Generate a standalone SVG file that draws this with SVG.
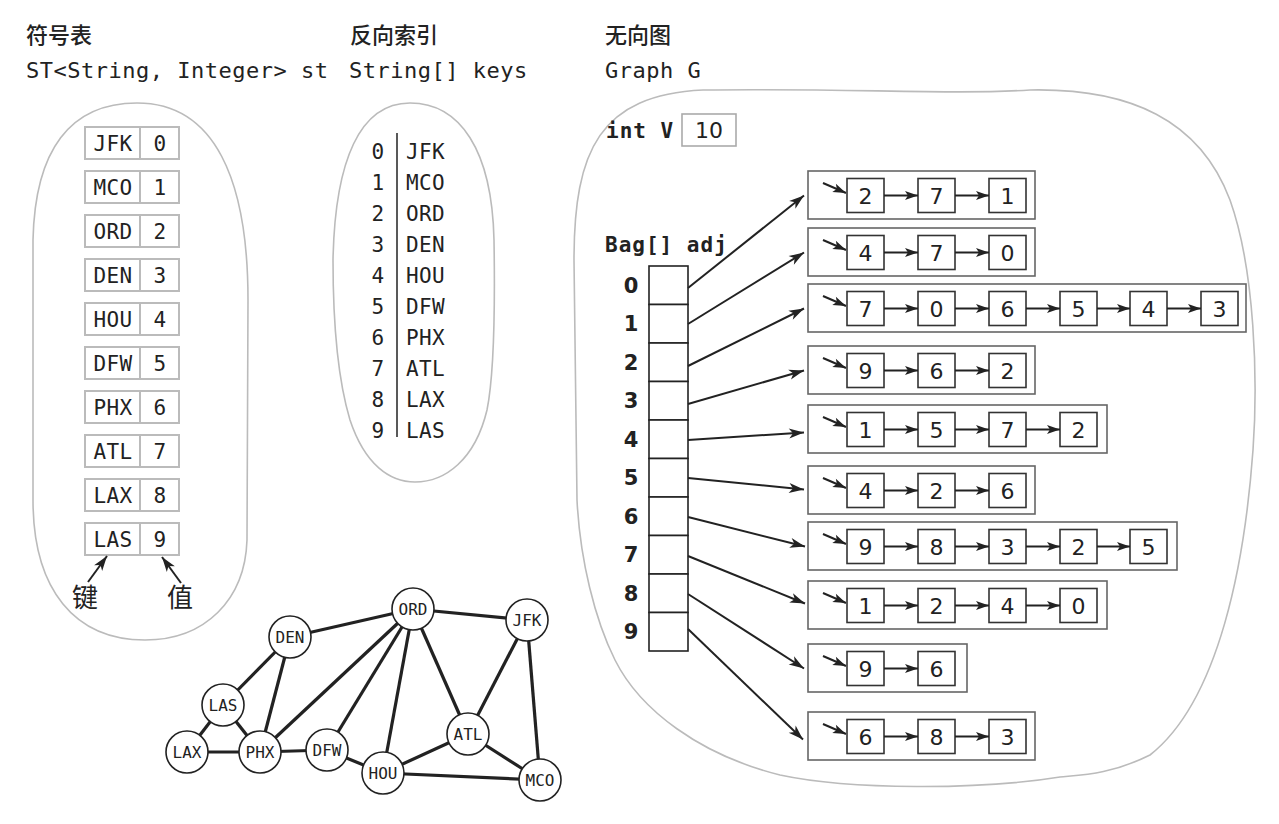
<svg xmlns="http://www.w3.org/2000/svg" width="1279" height="824" viewBox="0 0 1279 824">
<style>
.cjk{font-family:"Noto Sans CJK SC","Noto Sans",sans-serif;fill:#222}
.h1{font-size:22px;font-weight:500}
.mono{font-family:"DejaVu Sans Mono","Liberation Mono",monospace;fill:#222}
.hd{font-size:22px;letter-spacing:0.5px}
.tk{font-size:21px;letter-spacing:0.3px;text-anchor:middle}
.ii{font-size:21px;letter-spacing:0.3px}
.bold{font-weight:bold;font-size:21px;letter-spacing:1px}
.sans{font-family:"DejaVu Sans","Liberation Sans",sans-serif;fill:#222}
.num{font-size:22px;text-anchor:middle}
.idx{font-size:21px;font-weight:bold;text-anchor:middle}
.gl{font-size:16px;text-anchor:middle}
.blob{fill:none;stroke:#bbb;stroke-width:1.6}
.cell{fill:#fff;stroke:#bbb;stroke-width:2}
.lb{fill:#fff;stroke:#666;stroke-width:1.6}
.nb{fill:#fff;stroke:#333;stroke-width:1.6}
.ac{fill:#fff;stroke:#222;stroke-width:1.6}
.ar{stroke:#222;stroke-width:2;fill:none;marker-end:url(#ah)}
.ch{stroke:#222;stroke-width:2;fill:none;marker-end:url(#sh)}
.ed{stroke:#222;stroke-width:3.2}
.gn{fill:#fff;stroke:#222;stroke-width:1.6}
</style>
<defs>
<marker id="ah" viewBox="-16 -6 17 12" refX="0" refY="0" markerWidth="17" markerHeight="12" orient="auto" markerUnits="userSpaceOnUse"><path d="M0,0 L-15,-5 L-11,0 L-15,5 Z" fill="#222"/></marker>
<marker id="sh" viewBox="-14 -5 15 10" refX="0" refY="0" markerWidth="15" markerHeight="10" orient="auto" markerUnits="userSpaceOnUse"><path d="M0,0 L-13,-4.5 L-10,0 L-13,4.5 Z" fill="#222"/></marker>
</defs>
<rect width="1279" height="824" fill="#fff"/>

<g id="headers">
<text class="cjk h1" x="26" y="43">符号表</text>
<text class="cjk h1" x="350" y="43">反向索引</text>
<text class="cjk h1" x="605" y="43">无向图</text>
<text class="mono hd" x="26" y="78">ST&lt;String, Integer&gt; st</text>
<text class="mono hd" x="349" y="78">String[] keys</text>
<text class="mono hd" x="605" y="78">Graph G</text>
</g>

<g id="blobs">
<path class="blob" d="M137,103 C70,103 35,150 33,240 L33,500 C33,590 75,640 145,640 C205,640 245,600 247,540 L248,300 C248,180 215,103 137,103 Z"/>
<path class="blob" d="M410,103 C360,103 335,160 333,260 C333,330 338,380 350,420 C365,465 390,482 415,482 C445,482 475,460 487,410 C495,370 495,300 494,240 C492,150 460,103 410,103 Z"/>
<path class="blob" d="M703,90 C850,88 950,95 1030,90 C1130,88 1200,120 1230,200 C1255,270 1258,380 1253,450 C1245,560 1220,700 1150,755 C1110,775 1080,775 1060,777 C980,790 850,790 780,775 C700,755 640,710 615,660 C595,620 580,560 577,500 L574,260 C574,150 600,95 703,90 Z"/>
</g>

<g id="symbol-table">
<g id="st-0"><rect class="cell" x="85" y="127" width="55" height="32"/><rect class="cell" x="140" y="127" width="39" height="32"/><text class="mono tk" x="113" y="151">JFK</text><text class="mono tk" x="160" y="151">0</text></g>
<g id="st-1"><rect class="cell" x="85" y="171" width="55" height="32"/><rect class="cell" x="140" y="171" width="39" height="32"/><text class="mono tk" x="113" y="195">MCO</text><text class="mono tk" x="160" y="195">1</text></g>
<g id="st-2"><rect class="cell" x="85" y="215" width="55" height="32"/><rect class="cell" x="140" y="215" width="39" height="32"/><text class="mono tk" x="113" y="239">ORD</text><text class="mono tk" x="160" y="239">2</text></g>
<g id="st-3"><rect class="cell" x="85" y="259" width="55" height="32"/><rect class="cell" x="140" y="259" width="39" height="32"/><text class="mono tk" x="113" y="283">DEN</text><text class="mono tk" x="160" y="283">3</text></g>
<g id="st-4"><rect class="cell" x="85" y="303" width="55" height="32"/><rect class="cell" x="140" y="303" width="39" height="32"/><text class="mono tk" x="113" y="327">HOU</text><text class="mono tk" x="160" y="327">4</text></g>
<g id="st-5"><rect class="cell" x="85" y="347" width="55" height="32"/><rect class="cell" x="140" y="347" width="39" height="32"/><text class="mono tk" x="113" y="371">DFW</text><text class="mono tk" x="160" y="371">5</text></g>
<g id="st-6"><rect class="cell" x="85" y="391" width="55" height="32"/><rect class="cell" x="140" y="391" width="39" height="32"/><text class="mono tk" x="113" y="415">PHX</text><text class="mono tk" x="160" y="415">6</text></g>
<g id="st-7"><rect class="cell" x="85" y="435" width="55" height="32"/><rect class="cell" x="140" y="435" width="39" height="32"/><text class="mono tk" x="113" y="459">ATL</text><text class="mono tk" x="160" y="459">7</text></g>
<g id="st-8"><rect class="cell" x="85" y="479" width="55" height="32"/><rect class="cell" x="140" y="479" width="39" height="32"/><text class="mono tk" x="113" y="503">LAX</text><text class="mono tk" x="160" y="503">8</text></g>
<g id="st-9"><rect class="cell" x="85" y="523" width="55" height="32"/><rect class="cell" x="140" y="523" width="39" height="32"/><text class="mono tk" x="113" y="547">LAS</text><text class="mono tk" x="160" y="547">9</text></g>
<g id="st-labels">
<line class="ar" x1="88" y1="582" x2="107" y2="556"/>
<line class="ar" x1="181" y1="583" x2="162" y2="557"/>
<text class="cjk" x="72" y="607" font-size="26">键</text>
<text class="cjk" x="167" y="607" font-size="26">值</text>
</g>
</g>

<g id="inverse-index">
<line x1="397" y1="133" x2="397" y2="437" stroke="#222" stroke-width="1.5"/>
<g class="mono ii" text-anchor="middle">
<text x="378" y="159">0</text><text x="378" y="190">1</text><text x="378" y="221">2</text><text x="378" y="252">3</text><text x="378" y="283">4</text><text x="378" y="314">5</text><text x="378" y="345">6</text><text x="378" y="376">7</text><text x="378" y="407">8</text><text x="378" y="438">9</text>
</g>
<g class="mono ii">
<text x="406" y="159">JFK</text><text x="406" y="190">MCO</text><text x="406" y="221">ORD</text><text x="406" y="252">DEN</text><text x="406" y="283">HOU</text><text x="406" y="314">DFW</text><text x="406" y="345">PHX</text><text x="406" y="376">ATL</text><text x="406" y="407">LAX</text><text x="406" y="438">LAS</text>
</g>
</g>

<g id="int-v">
<text class="mono bold" x="606" y="138">int V</text>
<rect x="682" y="114" width="54" height="32" fill="#fff" stroke="#aaa" stroke-width="1.6"/>
<text class="sans" x="709" y="138" font-size="22" text-anchor="middle">10</text>
</g>

<g id="adj-array">
<text class="mono bold" x="605" y="252">Bag[] adj</text>
<rect class="ac" x="649" y="266" width="39" height="38.5"/>
<rect class="ac" x="649" y="304.5" width="39" height="38.5"/>
<rect class="ac" x="649" y="343" width="39" height="38.5"/>
<rect class="ac" x="649" y="381.5" width="39" height="38.5"/>
<rect class="ac" x="649" y="420" width="39" height="38.5"/>
<rect class="ac" x="649" y="458.5" width="39" height="38.5"/>
<rect class="ac" x="649" y="497" width="39" height="38.5"/>
<rect class="ac" x="649" y="535.5" width="39" height="38.5"/>
<rect class="ac" x="649" y="574" width="39" height="38.5"/>
<rect class="ac" x="649" y="612.5" width="39" height="38.5"/>
<g class="sans idx">
<text x="631" y="293">0</text><text x="631" y="331">1</text><text x="631" y="370">2</text><text x="631" y="408">3</text><text x="631" y="447">4</text><text x="631" y="485">5</text><text x="631" y="524">6</text><text x="631" y="562">7</text><text x="631" y="601">8</text><text x="631" y="639">9</text>
</g>
</g>

<g id="adj-pointers">
<line class="ar" x1="688" y1="288" x2="804" y2="195.5"/>
<line class="ar" x1="688" y1="324" x2="804" y2="252.5"/>
<line class="ar" x1="688" y1="366" x2="804" y2="308.5"/>
<line class="ar" x1="688" y1="404" x2="804" y2="370.5"/>
<line class="ar" x1="688" y1="440" x2="804" y2="432.5"/>
<line class="ar" x1="688" y1="478" x2="804" y2="489.5"/>
<line class="ar" x1="688" y1="517" x2="805" y2="546.5"/>
<line class="ar" x1="688" y1="556" x2="805" y2="603.5"/>
<line class="ar" x1="688" y1="594" x2="804" y2="668.5"/>
<line class="ar" x1="688" y1="629" x2="803" y2="739.5"/>
</g>

<g id="list-0">
<rect class="lb" x="808" y="171" width="227" height="48"/>
<line class="ch" x1="823" y1="183" x2="846" y2="193"/>
<rect class="nb" x="847" y="178.5" width="37" height="34"/><rect class="nb" x="918" y="178.5" width="37" height="34"/><rect class="nb" x="989" y="178.5" width="37" height="34"/>
<line class="ch" x1="884" y1="195.5" x2="918" y2="195.5"/><line class="ch" x1="955" y1="195.5" x2="989" y2="195.5"/>
<text class="sans num" x="865.5" y="203.5">2</text><text class="sans num" x="936.5" y="203.5">7</text><text class="sans num" x="1007.5" y="203.5">1</text>
</g>
<g id="list-1">
<rect class="lb" x="808" y="228" width="227" height="48"/>
<line class="ch" x1="823" y1="240" x2="846" y2="250"/>
<rect class="nb" x="847" y="235.5" width="37" height="34"/><rect class="nb" x="918" y="235.5" width="37" height="34"/><rect class="nb" x="989" y="235.5" width="37" height="34"/>
<line class="ch" x1="884" y1="252.5" x2="918" y2="252.5"/><line class="ch" x1="955" y1="252.5" x2="989" y2="252.5"/>
<text class="sans num" x="865.5" y="260.5">4</text><text class="sans num" x="936.5" y="260.5">7</text><text class="sans num" x="1007.5" y="260.5">0</text>
</g>
<g id="list-2">
<rect class="lb" x="808" y="284" width="438" height="48"/>
<line class="ch" x1="823" y1="296" x2="846" y2="306"/>
<rect class="nb" x="847" y="291.5" width="37" height="34"/><rect class="nb" x="918" y="291.5" width="37" height="34"/><rect class="nb" x="989" y="291.5" width="37" height="34"/><rect class="nb" x="1060" y="291.5" width="37" height="34"/><rect class="nb" x="1130" y="291.5" width="37" height="34"/><rect class="nb" x="1201" y="291.5" width="37" height="34"/>
<line class="ch" x1="884" y1="308.5" x2="918" y2="308.5"/><line class="ch" x1="955" y1="308.5" x2="989" y2="308.5"/><line class="ch" x1="1026" y1="308.5" x2="1060" y2="308.5"/><line class="ch" x1="1097" y1="308.5" x2="1130" y2="308.5"/><line class="ch" x1="1167" y1="308.5" x2="1201" y2="308.5"/>
<text class="sans num" x="865.5" y="316.5">7</text><text class="sans num" x="936.5" y="316.5">0</text><text class="sans num" x="1007.5" y="316.5">6</text><text class="sans num" x="1078.5" y="316.5">5</text><text class="sans num" x="1148.5" y="316.5">4</text><text class="sans num" x="1219.5" y="316.5">3</text>
</g>
<g id="list-3">
<rect class="lb" x="808" y="346" width="227" height="48"/>
<line class="ch" x1="823" y1="358" x2="846" y2="368"/>
<rect class="nb" x="847" y="353.5" width="37" height="34"/><rect class="nb" x="918" y="353.5" width="37" height="34"/><rect class="nb" x="989" y="353.5" width="37" height="34"/>
<line class="ch" x1="884" y1="370.5" x2="918" y2="370.5"/><line class="ch" x1="955" y1="370.5" x2="989" y2="370.5"/>
<text class="sans num" x="865.5" y="378.5">9</text><text class="sans num" x="936.5" y="378.5">6</text><text class="sans num" x="1007.5" y="378.5">2</text>
</g>
<g id="list-4">
<rect class="lb" x="808" y="405" width="299" height="48"/>
<line class="ch" x1="823" y1="417" x2="846" y2="427"/>
<rect class="nb" x="847" y="412.5" width="37" height="34"/><rect class="nb" x="918" y="412.5" width="37" height="34"/><rect class="nb" x="989" y="412.5" width="37" height="34"/><rect class="nb" x="1060" y="412.5" width="37" height="34"/>
<line class="ch" x1="884" y1="429.5" x2="918" y2="429.5"/><line class="ch" x1="955" y1="429.5" x2="989" y2="429.5"/><line class="ch" x1="1026" y1="429.5" x2="1060" y2="429.5"/>
<text class="sans num" x="865.5" y="437.5">1</text><text class="sans num" x="936.5" y="437.5">5</text><text class="sans num" x="1007.5" y="437.5">7</text><text class="sans num" x="1078.5" y="437.5">2</text>
</g>
<g id="list-5">
<rect class="lb" x="808" y="466" width="227" height="48"/>
<line class="ch" x1="823" y1="478" x2="846" y2="488"/>
<rect class="nb" x="847" y="473.5" width="37" height="34"/><rect class="nb" x="918" y="473.5" width="37" height="34"/><rect class="nb" x="989" y="473.5" width="37" height="34"/>
<line class="ch" x1="884" y1="490.5" x2="918" y2="490.5"/><line class="ch" x1="955" y1="490.5" x2="989" y2="490.5"/>
<text class="sans num" x="865.5" y="498.5">4</text><text class="sans num" x="936.5" y="498.5">2</text><text class="sans num" x="1007.5" y="498.5">6</text>
</g>
<g id="list-6">
<rect class="lb" x="808" y="522" width="369" height="48"/>
<line class="ch" x1="823" y1="534" x2="846" y2="544"/>
<rect class="nb" x="847" y="529.5" width="37" height="34"/><rect class="nb" x="918" y="529.5" width="37" height="34"/><rect class="nb" x="989" y="529.5" width="37" height="34"/><rect class="nb" x="1060" y="529.5" width="37" height="34"/><rect class="nb" x="1130" y="529.5" width="37" height="34"/>
<line class="ch" x1="884" y1="546.5" x2="918" y2="546.5"/><line class="ch" x1="955" y1="546.5" x2="989" y2="546.5"/><line class="ch" x1="1026" y1="546.5" x2="1060" y2="546.5"/><line class="ch" x1="1097" y1="546.5" x2="1130" y2="546.5"/>
<text class="sans num" x="865.5" y="554.5">9</text><text class="sans num" x="936.5" y="554.5">8</text><text class="sans num" x="1007.5" y="554.5">3</text><text class="sans num" x="1078.5" y="554.5">2</text><text class="sans num" x="1148.5" y="554.5">5</text>
</g>
<g id="list-7">
<rect class="lb" x="808" y="581" width="299" height="48"/>
<line class="ch" x1="823" y1="593" x2="846" y2="603"/>
<rect class="nb" x="847" y="588.5" width="37" height="34"/><rect class="nb" x="918" y="588.5" width="37" height="34"/><rect class="nb" x="989" y="588.5" width="37" height="34"/><rect class="nb" x="1060" y="588.5" width="37" height="34"/>
<line class="ch" x1="884" y1="605.5" x2="918" y2="605.5"/><line class="ch" x1="955" y1="605.5" x2="989" y2="605.5"/><line class="ch" x1="1026" y1="605.5" x2="1060" y2="605.5"/>
<text class="sans num" x="865.5" y="613.5">1</text><text class="sans num" x="936.5" y="613.5">2</text><text class="sans num" x="1007.5" y="613.5">4</text><text class="sans num" x="1078.5" y="613.5">0</text>
</g>
<g id="list-8">
<rect class="lb" x="808" y="644" width="159" height="48"/>
<line class="ch" x1="823" y1="656" x2="846" y2="666"/>
<rect class="nb" x="847" y="651.5" width="37" height="34"/><rect class="nb" x="918" y="651.5" width="37" height="34"/>
<line class="ch" x1="884" y1="668.5" x2="918" y2="668.5"/>
<text class="sans num" x="865.5" y="676.5">9</text><text class="sans num" x="936.5" y="676.5">6</text>
</g>
<g id="list-9">
<rect class="lb" x="808" y="712" width="227" height="48"/>
<line class="ch" x1="823" y1="724" x2="846" y2="734"/>
<rect class="nb" x="847" y="719.5" width="37" height="34"/><rect class="nb" x="918" y="719.5" width="37" height="34"/><rect class="nb" x="989" y="719.5" width="37" height="34"/>
<line class="ch" x1="884" y1="736.5" x2="918" y2="736.5"/><line class="ch" x1="955" y1="736.5" x2="989" y2="736.5"/>
<text class="sans num" x="865.5" y="744.5">6</text><text class="sans num" x="936.5" y="744.5">8</text><text class="sans num" x="1007.5" y="744.5">3</text>
</g>

<g id="graph-edges">
<line class="ed" x1="413" y1="609" x2="290" y2="637"/>
<line class="ed" x1="413" y1="609" x2="527" y2="620"/>
<line class="ed" x1="413" y1="609" x2="260" y2="752"/>
<line class="ed" x1="413" y1="609" x2="327" y2="750"/>
<line class="ed" x1="413" y1="609" x2="383" y2="773"/>
<line class="ed" x1="413" y1="609" x2="468" y2="734"/>
<line class="ed" x1="290" y1="637" x2="223" y2="705"/>
<line class="ed" x1="290" y1="637" x2="260" y2="752"/>
<line class="ed" x1="223" y1="705" x2="187" y2="752"/>
<line class="ed" x1="223" y1="705" x2="260" y2="752"/>
<line class="ed" x1="187" y1="752" x2="260" y2="752"/>
<line class="ed" x1="260" y1="752" x2="327" y2="750"/>
<line class="ed" x1="327" y1="750" x2="383" y2="773"/>
<line class="ed" x1="383" y1="773" x2="468" y2="734"/>
<line class="ed" x1="383" y1="773" x2="540" y2="780"/>
<line class="ed" x1="468" y1="734" x2="527" y2="620"/>
<line class="ed" x1="468" y1="734" x2="540" y2="780"/>
<line class="ed" x1="527" y1="620" x2="540" y2="780"/>
</g>
<g id="g-ORD"><circle class="gn" cx="413" cy="609" r="21"/><text class="mono gl" x="413" y="615">ORD</text></g>
<g id="g-JFK"><circle class="gn" cx="527" cy="620" r="21"/><text class="mono gl" x="527" y="626">JFK</text></g>
<g id="g-DEN"><circle class="gn" cx="290" cy="637" r="21"/><text class="mono gl" x="290" y="643">DEN</text></g>
<g id="g-LAS"><circle class="gn" cx="223" cy="705" r="21"/><text class="mono gl" x="223" y="711">LAS</text></g>
<g id="g-LAX"><circle class="gn" cx="187" cy="752" r="21"/><text class="mono gl" x="187" y="758">LAX</text></g>
<g id="g-PHX"><circle class="gn" cx="260" cy="752" r="21"/><text class="mono gl" x="260" y="758">PHX</text></g>
<g id="g-DFW"><circle class="gn" cx="327" cy="750" r="21"/><text class="mono gl" x="327" y="756">DFW</text></g>
<g id="g-HOU"><circle class="gn" cx="383" cy="773" r="21"/><text class="mono gl" x="383" y="779">HOU</text></g>
<g id="g-ATL"><circle class="gn" cx="468" cy="734" r="21"/><text class="mono gl" x="468" y="740">ATL</text></g>
<g id="g-MCO"><circle class="gn" cx="540" cy="780" r="21"/><text class="mono gl" x="540" y="786">MCO</text></g>
</svg>
